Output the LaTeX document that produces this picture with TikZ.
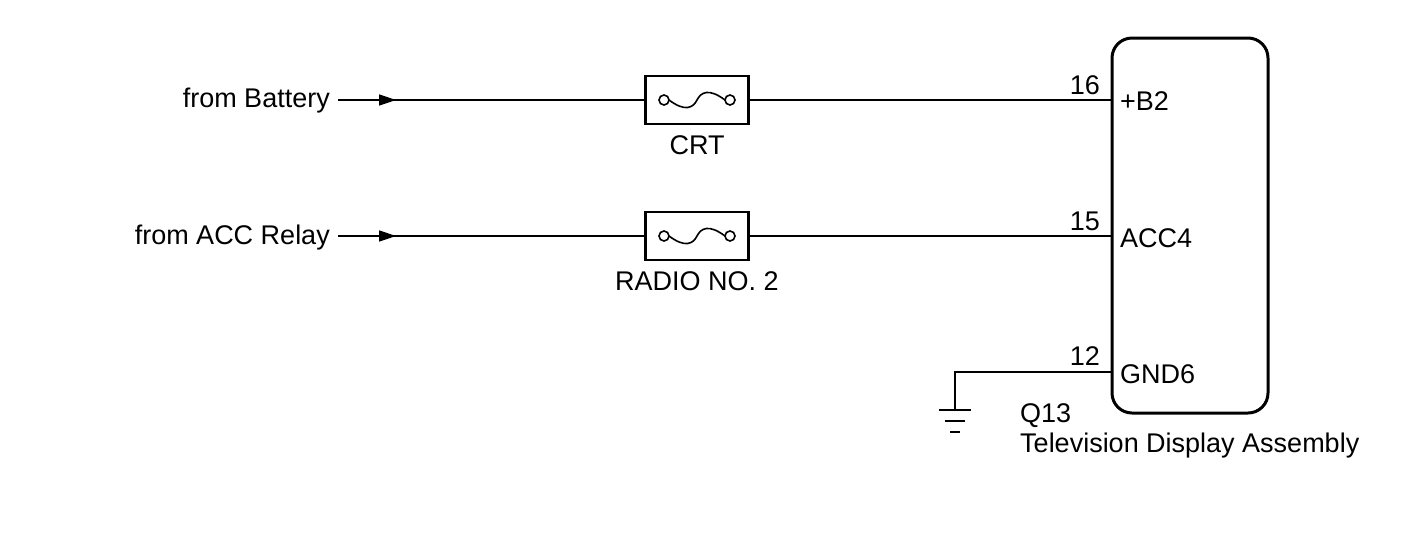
\documentclass[tikz,border=0pt]{standalone}
\usepackage{fontspec}
\setmainfont{Liberation Sans}
\usetikzlibrary{arrows.meta}
\begin{document}
\begin{tikzpicture}[x=1pt,y=-1pt,
  wire/.style={line width=1.6pt},
  lbl/.style={inner sep=0pt,font=\fontsize{27}{30}\selectfont},
  fuse/.style={draw,line width=2.2pt,minimum width=103pt,minimum height=48pt,inner sep=0pt},
  arr/.style={-{Triangle[length=17pt,width=11pt]}}]
\useasboundingbox (0,0) rectangle (1424,558);
% component box
\node[draw,line width=3pt,rounded corners=20pt,minimum width=156pt,minimum height=375pt] (ecu) at (1190,225.5) {};
% row 1
\node[lbl,anchor=east] (bat) at (330,101) {from Battery};
\node[fuse] (f1) at (697,100) {};
\node[lbl] (crt) at (697,145) {CRT};
\coordinate (p16) at (1112,100);
\draw[wire] (338,100) -- (645,100);
\draw[wire,arr] (338,100) -- (396,100);
\draw[wire] (f1.east) -- (p16);
\node[lbl,anchor=south east] (n16) at (1100,95) {16};
\node[lbl,anchor=west] (b2) at (1120,101) {+B2};
% row 2
\node[lbl,anchor=east] (acc) at (330,238) {from ACC Relay};
\node[fuse] (f2) at (697,236) {};
\node[lbl] (rad) at (697,281) {RADIO NO. 2};
\coordinate (p15) at (1112,236);
\draw[wire] (338,236) -- (645,236);
\draw[wire,arr] (338,236) -- (396,236);
\draw[wire] (f2.east) -- (p15);
\node[lbl,anchor=south east] (n15) at (1100,231) {15};
\node[lbl,anchor=west] (acc4) at (1120,238) {ACC4};
% fuse symbols
\foreach \f in {f1,f2}{
  \draw[line width=1.6pt] ([xshift=-33pt]\f.center) circle (5pt) ([xshift=33pt]\f.center) circle (5pt);
  \draw[line width=1.6pt] ([xshift=-28pt]\f.center) .. controls ([xshift=-12pt,yshift=-12pt]\f.center) and ([xshift=-4pt,yshift=-8pt]\f.center) .. (\f.center)
     .. controls ([xshift=4pt,yshift=8pt]\f.center) and ([xshift=12pt,yshift=12pt]\f.center) .. ([xshift=28pt]\f.center);
}
% ground
\coordinate (p12) at (1112,372);
\coordinate (g) at (955,410);
\draw[wire] (p12) -- (955,372) -- (g);
\draw[wire] (939,410) -- (971,410) (945,421) -- (965,421) (950,432) -- (960,432);
\node[lbl,anchor=south east] (n12) at (1100,366) {12};
\node[lbl,anchor=west] (gnd) at (1120,374) {GND6};
\node[lbl,anchor=west] (q13) at (1020,416) {Q13};
\node[lbl,anchor=west] (tv) at (1020,446) {Television Display Assembly};
\end{tikzpicture}
\end{document}
